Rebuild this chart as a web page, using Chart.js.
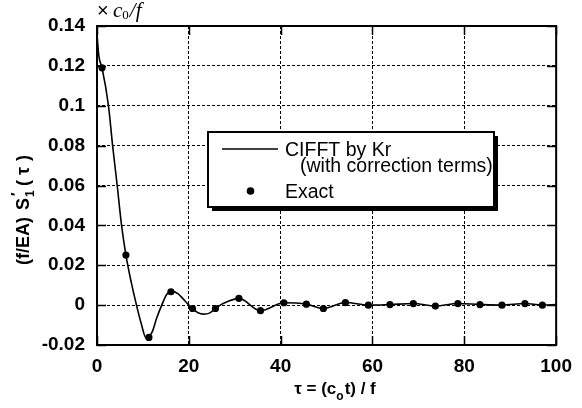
<!DOCTYPE html>
<html>
<head>
<meta charset="utf-8">
<script src="https://cdn.jsdelivr.net/npm/chart.js@4.4.1/dist/chart.umd.min.js"></script>
<style>
  html, body { margin: 0; padding: 0; background: #fff; }
  #wrap { position: relative; width: 582px; height: 408px; }
  canvas { display: block; }
</style>
</head>
<body>
<div id="wrap"><canvas id="c" width="582" height="408"></canvas></div>
<script>
// ---- data ----
const exactTau = [1.1, 6.3, 11.3, 16.1, 20.8, 25.8, 30.9, 35.6, 40.7, 45.6, 49.3, 54.1, 59.1, 63.8, 68.9, 73.7, 78.6, 83.4, 88.2, 93.2, 97.0];
const exactVal = [0.119, 0.0251, -0.0162, 0.0067, -0.0017, -0.0017, 0.0034, -0.0028, 0.0012, 0.0005, -0.0017, 0.0013, 0.0, 0.0003, 0.0008, -0.0005, 0.0008, 0.0003, 0.0, 0.0008, 0.0];

const cifftTau = [0, 0.4, 1.1, 2.5, 3.4, 4.4, 5.35, 6.3, 7.5, 8.6, 9.6, 10.7, 12.0, 13.0, 14.1, 15.2, 16.3, 17.6, 18.8, 20.0, 20.8, 22.0, 23.2, 24.5, 25.8, 27.2, 28.6, 30.0, 30.9, 35.6, 40.7, 45.6, 49.3, 54.1, 59.1, 63.8, 68.9, 73.7, 78.6, 83.4, 88.2, 93.2, 97.0, 100];
const cifftVal = [0.136, 0.125, 0.119, 0.100, 0.080, 0.060, 0.040, 0.0251, 0.011, 0.0, -0.009, -0.0165, -0.0135, -0.0065, 0.0, 0.0055, 0.0069, 0.0058, 0.003, 0.0, -0.0017, -0.0038, -0.0045, -0.004, -0.0017, 0.0005, 0.002, 0.003, 0.0034, -0.0028, 0.0012, 0.0005, -0.0017, 0.0013, 0.0, 0.0003, 0.0008, -0.0005, 0.0008, 0.0003, 0.0, 0.0008, 0.0, 0.0003];

const xTicks = [0, 20, 40, 60, 80, 100];
const yTicks = [-0.02, 0, 0.02, 0.04, 0.06, 0.08, 0.1, 0.12, 0.14];

const legendLine = "CIFFT by Kr";
const legendLine2 = "(with correction terms)";
const legendExact = "Exact";

const exactPts = exactTau.map((t, i) => ({ x: t, y: exactVal[i] }));
const cifftPts = cifftTau.map((t, i) => ({ x: t, y: cifftVal[i] }));

const fmtY = v => {
  let s = (Math.round(v * 100) / 100).toFixed(2);
  s = s.replace(/0+$/, '').replace(/\.$/, '');
  if (s === '-0') s = '0';
  return s;
};

const SANS = "'Liberation Sans', Arial, Helvetica, sans-serif";
const SERIF = "'Liberation Serif', 'Times New Roman', serif";

const decor = {
  id: 'decor',
  afterDraw(chart) {
    const ctx = chart.ctx;
    const a = chart.chartArea;
    const xs = chart.scales.x, ys = chart.scales.y;
    ctx.save();
    // frame
    ctx.strokeStyle = '#000';
    ctx.lineWidth = 2;
    ctx.strokeRect(a.left, a.top, a.right - a.left, a.bottom - a.top);
    // inward ticks
    ctx.lineWidth = 1.5;
    const tl = 9;
    ctx.beginPath();
    yTicks.forEach(v => {
      const y = Math.round(ys.getPixelForValue(v)) + 0.5;
      ctx.moveTo(a.left, y); ctx.lineTo(a.left + tl, y);
      ctx.moveTo(a.right, y); ctx.lineTo(a.right - tl, y);
    });
    xTicks.forEach(v => {
      const x = Math.round(xs.getPixelForValue(v)) + 0.5;
      ctx.moveTo(x, a.bottom); ctx.lineTo(x, a.bottom - tl);
      ctx.moveTo(x, a.top); ctx.lineTo(x, a.top + tl);
    });
    ctx.stroke();

    // legend box
    const L = 208, T = 132, R = 494, B = 207;
    ctx.fillStyle = '#000';
    ctx.fillRect(L + 4, T + 4, R - L, B - T);
    ctx.fillStyle = '#fff';
    ctx.fillRect(L, T, R - L, B - T);
    ctx.lineWidth = 2;
    ctx.strokeStyle = '#000';
    ctx.strokeRect(L, T, R - L, B - T);
    ctx.beginPath();
    ctx.lineWidth = 1.3;
    ctx.moveTo(222, 149); ctx.lineTo(278, 149);
    ctx.stroke();
    ctx.beginPath();
    ctx.fillStyle = '#000';
    ctx.arc(250.5, 191, 3.8, 0, Math.PI * 2);
    ctx.fill();
    ctx.font = '19.5px ' + SANS;
    ctx.textBaseline = 'alphabetic';
    ctx.textAlign = 'left';
    ctx.fillText(legendLine, 285, 156);
    ctx.fillText(legendLine2, 300, 172);
    ctx.fillText(legendExact, 285, 198);

    // top-left unit "× c0/f"
    ctx.font = '20px ' + SANS;
    ctx.fillText('\u00d7', 97, 17);
    ctx.font = 'italic 21px ' + SERIF;
    ctx.fillText('c', 113, 17);
    let w = ctx.measureText('c').width;
    ctx.font = '13px ' + SERIF;
    ctx.fillText('0', 113 + w, 19);
    let w2 = ctx.measureText('0').width;
    ctx.font = 'italic 21px ' + SERIF;
    ctx.fillText('/f', 113 + w + w2 + 1, 17);

    // x title: τ = (c0 t) / f
    const p1 = '\u03c4 = (c', p2 = 't) / f';
    ctx.font = 'bold 17px ' + SANS;
    const w1 = ctx.measureText(p1).width;
    const wp2 = ctx.measureText(p2).width;
    ctx.font = 'bold 12px ' + SANS;
    const ws = ctx.measureText('o').width;
    const tot = w1 + ws + 1 + wp2;
    let x0 = 335 - tot / 2;
    const by = 394;
    ctx.font = 'bold 17px ' + SANS;
    ctx.fillText(p1, x0, by);
    ctx.font = 'bold 12px ' + SANS;
    ctx.fillText('o', x0 + w1, by + 6);
    ctx.font = 'bold 17px ' + SANS;
    ctx.fillText(p2, x0 + w1 + ws + 1, by);

    // y title: (f/EA) S1'( τ )
    ctx.save();
    ctx.translate(29, 193);
    ctx.rotate(-Math.PI / 2);
    ctx.font = 'bold 18px ' + SANS;
    let u = -72;
    ctx.fillText('(f/EA)', u, 0);
    u += ctx.measureText('(f/EA)').width + 7;
    ctx.fillText('S', u, 0);
    u += ctx.measureText('S').width;
    ctx.font = 'bold 12px ' + SANS;
    ctx.fillText('1', u + 1, 5);
    ctx.font = 'bold 15px ' + SANS;
    ctx.fillText('\u2032', u + 2, -8);
    u += 10;
    ctx.font = 'bold 18px ' + SANS;
    ctx.fillText('(', u + 2, 0);
    u += ctx.measureText('(').width + 7;
    ctx.fillText('\u03c4', u, 0);
    u += ctx.measureText('\u03c4').width + 6;
    ctx.fillText(')', u, 0);
    ctx.restore();

    ctx.restore();
  }
};

new Chart(document.getElementById('c'), {
  type: 'scatter',
  data: {
    datasets: [
      {
        label: legendLine,
        data: cifftPts,
        showLine: true,
        borderColor: '#000',
        borderWidth: 1.6,
        pointRadius: 0,
        cubicInterpolationMode: 'monotone',
        order: 2
      },
      {
        label: legendExact,
        data: exactPts,
        showLine: false,
        pointRadius: 3.6,
        pointBackgroundColor: '#000',
        pointBorderColor: '#000',
        pointBorderWidth: 0,
        order: 1
      }
    ]
  },
  options: {
    responsive: false,
    animation: false,
    layout: { padding: { top: 26, right: 19, left: 0, bottom: 0 } },
    plugins: { legend: { display: false }, tooltip: { enabled: false } },
    scales: {
      x: {
        type: 'linear',
        min: 0, max: 100,
        afterFit: s => { s.height = 63; },
        afterBuildTicks: s => { s.ticks = xTicks.map(v => ({ value: v })); },
        ticks: { color: '#000', font: { family: SANS, size: 19, weight: 'bold' }, padding: 10 },
        grid: { color: '#000', lineWidth: 1, drawTicks: false },
        border: { display: false, dash: [3, 2] }
      },
      y: {
        type: 'linear',
        min: -0.02, max: 0.14,
        afterFit: s => { s.width = 97; },
        afterBuildTicks: s => { s.ticks = yTicks.map(v => ({ value: v })); },
        ticks: { color: '#000', font: { family: SANS, size: 19, weight: 'bold' }, padding: 12, callback: v => fmtY(v) },
        grid: { color: '#000', lineWidth: 1, drawTicks: false },
        border: { display: false, dash: [3, 2] }
      }
    }
  },
  plugins: [decor]
});
</script>
</body>
</html>
